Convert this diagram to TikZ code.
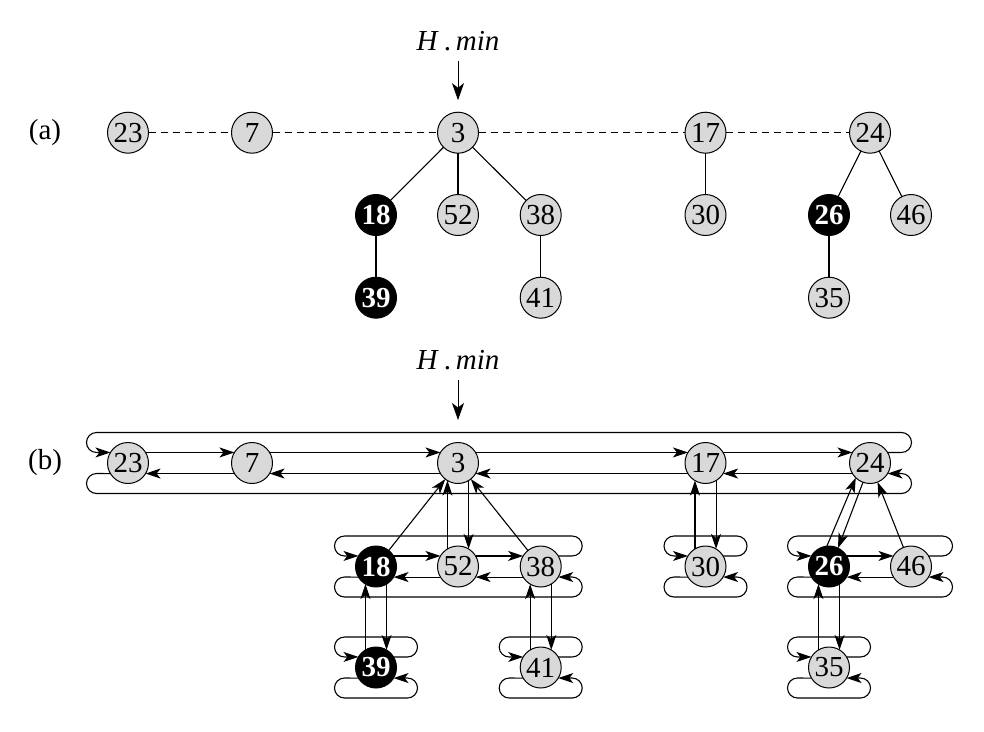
\documentclass[tikz,border=0pt]{standalone}
\usepackage{fontspec}
\setmainfont{Liberation Serif}
\usetikzlibrary{arrows.meta,calc}
\tikzset{
  hn/.style={circle, draw, line width=1pt, fill=black!15, minimum size=41pt,
    inner sep=0pt, outer sep=0pt, font=\fontsize{29}{29}\selectfont},
  bn/.style={hn, fill=black, text=white, font=\fontsize{29}{29}\selectfont\bfseries},
  ptr/.style={line width=1.1pt, -{Stealth[length=15pt,width=10pt,inset=4pt]}},
  bigptr/.style={line width=1pt, -{Stealth[length=17pt,width=12pt,inset=4.5pt]}},
  tree/.style={line width=1.1pt},
  rootlink/.style={line width=0.9pt, dash pattern=on 7pt off 5pt},
  lbl/.style={font=\fontsize{29}{29}\selectfont, inner sep=0pt},
  hlbl/.style={font=\fontsize{29}{29}\selectfont, inner sep=0pt, outer sep=10pt},
}
\newcommand{\listloop}[2]{%
  \draw[ptr, rounded corners=10pt] (#2.31) -- ($(#2.center)+(41.5,-10.5)$) -- ($(#2.center)+(41.5,-30.5)$)
     -- ($(#1.center)+(-41.5,-30.5)$) -- ($(#1.center)+(-41.5,-10.5)$) -- (#1.149);
  \draw[ptr, rounded corners=10pt] (#1.211) -- ($(#1.center)+(-41.5,10.5)$) -- ($(#1.center)+(-41.5,30.5)$)
     -- ($(#2.center)+(41.5,30.5)$) -- ($(#2.center)+(41.5,10.5)$) -- (#2.-31);
}
\newcommand{\sibs}[2]{%
  \draw[ptr] (#1.31) -- (#2.149);
  \draw[ptr] (#2.211) -- (#1.-31);
}
\newcommand{\pc}[2]{%
  \draw[ptr] (#2.121) -- (#1.239);
  \draw[ptr] (#1.301) -- (#2.59);
}
\begin{document}
\begin{tikzpicture}[x=1pt,y=-1pt]
\useasboundingbox (0,0) rectangle (984,731);

% ---------------- (a) ----------------
\node[lbl] (la) at (45,133) {(a)};
\node[hn] (a23) at (128,132.7) {23};
\node[hn] (a7)  at (252,132.7) {7};
\node[hn] (a3)  at (458,132.7) {3};
\node[hn] (a17) at (705.5,132.7) {17};
\node[hn] (a24) at (870,132.7) {24};
\node[bn] (a18) at (376,215) {18};
\node[hn] (a52) at (458,215) {52};
\node[hn] (a38) at (540.7,215) {38};
\node[hn] (a30) at (705.5,215) {30};
\node[bn] (a26) at (829,215) {26};
\node[hn] (a46) at (911,215) {46};
\node[bn] (a39) at (376,297.7) {39};
\node[hn] (a41) at (540.7,297.7) {41};
\node[hn] (a35) at (829,297.7) {35};
\node[hlbl] (ha) at (458,41) {\textit{H}\,.\,\textit{min}};
\draw[bigptr, shorten >=12pt] (ha) -- (a3);

\draw[rootlink] (a23) -- (a7);
\draw[rootlink] (a7) -- (a3);
\draw[rootlink] (a3) -- (a17);
\draw[rootlink] (a17) -- (a24);
\draw[tree] (a3) -- (a18);
\draw[tree] (a3) -- (a52);
\draw[tree] (a3) -- (a38);
\draw[tree] (a18) -- (a39);
\draw[tree] (a38) -- (a41);
\draw[tree] (a17) -- (a30);
\draw[tree] (a24) -- (a26);
\draw[tree] (a24) -- (a46);
\draw[tree] (a26) -- (a35);

% ---------------- (b) ----------------
\node[lbl] (lb) at (45,463) {(b)};
\node[hn] (b23) at (128,463) {23};
\node[hn] (b7)  at (252,463) {7};
\node[hn] (b3)  at (458,463) {3};
\node[hn] (b17) at (705.5,463) {17};
\node[hn] (b24) at (870,463) {24};
\node[bn] (b18) at (376,566.5) {18};
\node[hn] (b52) at (458,566.5) {52};
\node[hn] (b38) at (540.7,566.5) {38};
\node[hn] (b30) at (705.5,566.5) {30};
\node[bn] (b26) at (829,566.5) {26};
\node[hn] (b46) at (911,566.5) {46};
\node[bn] (b39) at (376,667.5) {39};
\node[hn] (b41) at (540.7,667.5) {41};
\node[hn] (b35) at (829,667.5) {35};
\node[hlbl] (hb) at (458,360) {\textit{H}\,.\,\textit{min}};
\draw[bigptr, shorten >=22.5pt] (hb) -- (b3);

% root list
\sibs{b23}{b7}
\sibs{b7}{b3}
\sibs{b3}{b17}
\sibs{b17}{b24}
\listloop{b23}{b24}

% children of 3
\sibs{b18}{b52}
\sibs{b52}{b38}
\listloop{b18}{b38}
\draw[ptr] (b18) -- (b3);
\draw[ptr] (b38) -- (b3);
\pc{b3}{b52}

% child of 18, 38, 17
\listloop{b39}{b39}
\pc{b18}{b39}
\listloop{b41}{b41}
\pc{b38}{b41}
\listloop{b30}{b30}
\pc{b17}{b30}

% children of 24
\sibs{b26}{b46}
\listloop{b26}{b46}
\draw[ptr] (b26.96) -- (b24.226);
\draw[ptr] (b24.250) -- (b26.64);
\draw[ptr] (b46) -- (b24);

% child of 26
\listloop{b35}{b35}
\pc{b26}{b35}
\end{tikzpicture}
\end{document}
